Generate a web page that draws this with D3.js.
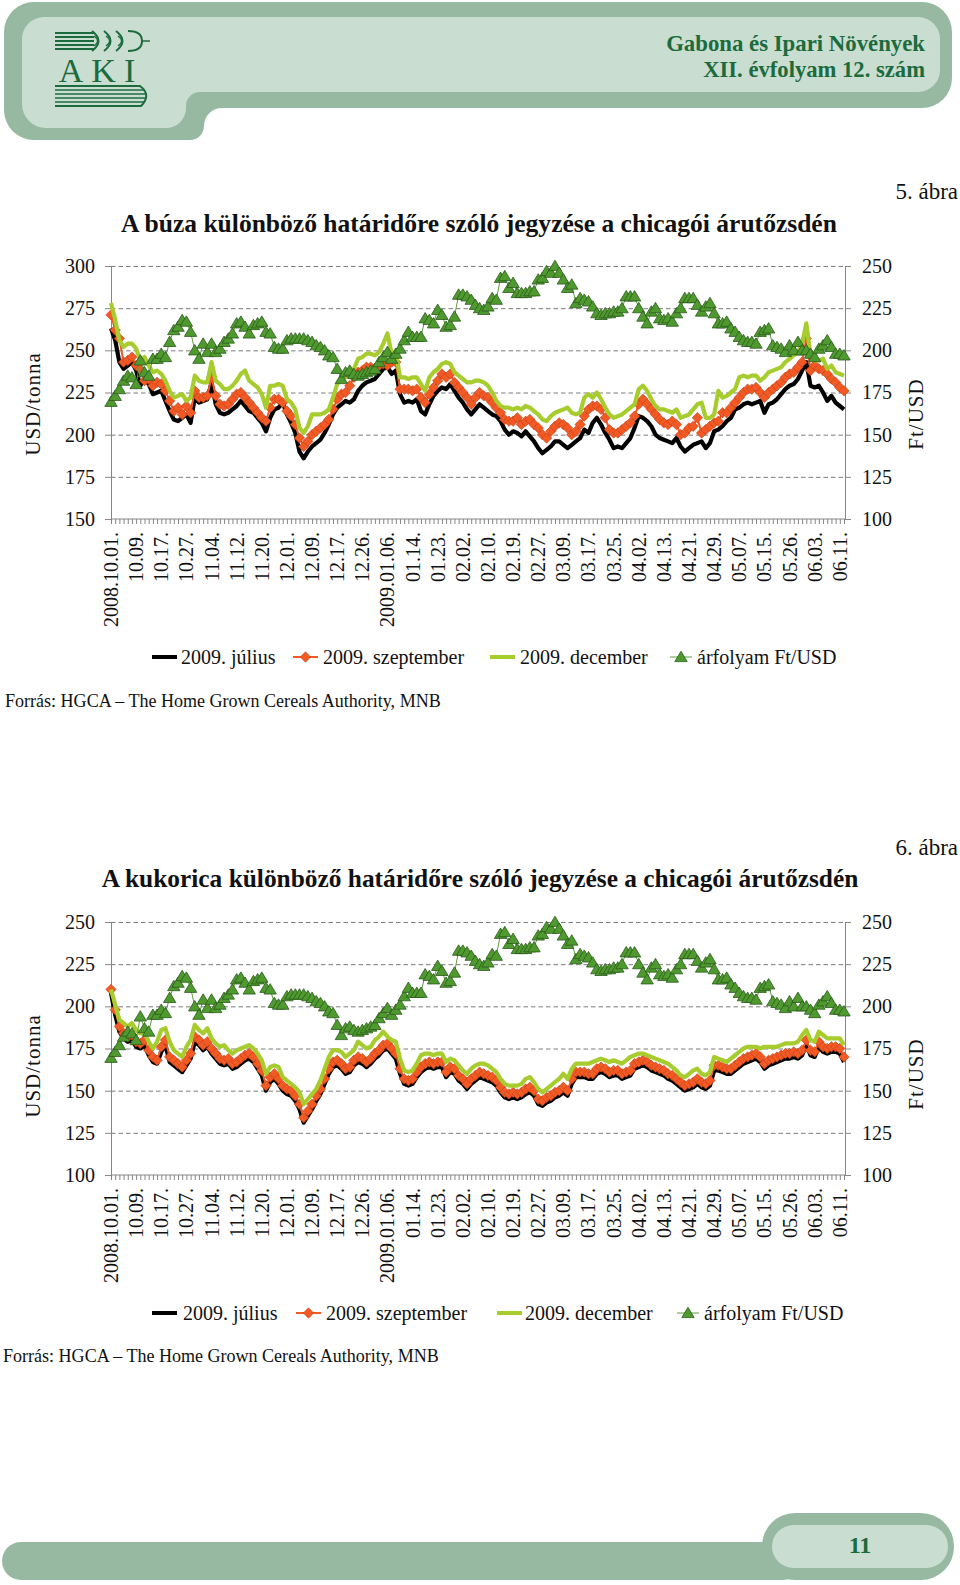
<!DOCTYPE html>
<html><head><meta charset="utf-8">
<script src="https://cdn.jsdelivr.net/npm/d3@7"></script>
<style>
body{margin:0;background:#fff;}
svg{display:block;font-family:"Liberation Serif","Times New Roman",serif;}
</style></head><body>
<svg id="page" width="960" height="1585"></svg>
<script>
// ---------- DATA ----------
const months = [
  ["2008.10.", ["01","02","03","06","07","08","09","10","13","14","15","16","17","20","21","22","23","24","27","28","29","30","31"]],
  ["2008.11.", ["03","04","05","06","07","10","11","12","13","14","17","18","19","20","21","24","25","26","28"]],
  ["2008.12.", ["01","02","03","04","05","08","09","10","11","12","15","16","17","18","19","22","23","24","26","29","30","31"]],
  ["2009.01.", ["02","05","06","07","08","09","12","13","14","15","16","20","21","22","23","26","27","28","29","30"]],
  ["2009.02.", ["02","03","04","05","06","09","10","11","12","13","17","18","19","20","23","24","25","26","27"]],
  ["2009.03.", ["02","03","04","05","06","09","10","11","12","13","16","17","18","19","20","23","24","25","26","27","30","31"]],
  ["2009.04.", ["01","02","03","06","07","08","09","13","14","15","16","17","20","21","22","23","24","27","28","29","30"]],
  ["2009.05.", ["01","04","05","06","07","08","11","12","13","14","15","18","19","20","21","22","26","27","28","29"]],
  ["2009.06.", ["01","02","03","04","05","08","09","10","11","12"]]
];
const dates = months.flatMap(([m, days]) => days.map(d => m + d));

const tickLabels = ["2008.10.01.","10.09.","10.17.","10.27.","11.04.","11.12.","11.20.","12.01.","12.09.","12.17.","12.26.","2009.01.06.","01.14.","01.23.","02.02.","02.10.","02.19.","02.27.","03.09.","03.17.","03.25.","04.02.","04.13.","04.21.","04.29.","05.07.","05.15.","05.26.","06.03.","06.11."];
const tickEvery = 6;

const seriesNames = ["2009. július","2009. szeptember","2009. december","árfolyam Ft/USD"];

// Wheat (USD/tonna)
const wheatJuly = [263,256,243,239,241,243,238,229,233,230,224,225,226,220,214,209,208,210,212,207,222,219,220,221,231,218,213,212,213,215,217,220,217,214,213,210,207,202,210,215,216,219,212,207,201,190,186,190,193,195,197,201,206,212,216,218,220,219,221,226,229,231,232,233,236,239,240,236,238,224,219,220,219,221,214,212,218,223,226,228,227,230,226,222,219,215,212,215,218,216,214,212,211,208,203,200,202,201,199,202,199,196,192,189,191,193,196,196,194,192,194,196,198,203,201,207,210,206,201,197,192,193,192,195,198,204,211,210,208,205,200,198,197,196,195,198,193,190,192,194,195,196,192,195,202,203,205,208,210,215,216,218,219,218,219,220,213,218,219,221,224,227,229,230,233,238,243,229,228,229,225,220,223,219,217,215];
const wheatSep = [271,262,257,243,244,246,241,239,232,233,229,231,230,226,220,214,216,212,217,213,226,222,222,223,234,223,218,217,218,221,224,225,222,219,216,213,210,208,216,221,221,219,214,211,206,198,193,196,200,202,204,206,209,215,221,224,225,229,234,237,238,240,240,239,241,242,241,243,243,227,227,227,226,227,222,219,224,228,232,236,234,236,231,228,225,222,218,222,225,223,222,219,216,213,209,208,208,210,206,208,209,206,204,200,198,202,205,207,206,204,200,202,206,211,215,217,217,215,210,203,201,201,203,205,207,211,218,221,218,215,212,209,207,206,208,206,200,201,204,205,210,201,203,205,207,208,213,213,216,219,222,225,227,227,228,225,222,225,227,229,231,234,236,237,240,243,257,238,241,239,238,236,233,231,228,226];
const wheatDec = [278,268,256,252,254,254,251,244,246,241,237,238,236,232,226,222,223,224,220,222,235,232,231,231,243,232,230,227,227,229,232,236,238,232,230,228,224,216,229,229,230,229,221,219,215,204,201,205,212,212,212,213,215,222,230,233,234,235,239,245,246,248,248,247,249,254,260,248,249,234,234,233,234,234,230,226,234,237,239,242,243,242,237,235,233,231,231,232,232,231,229,225,220,217,216,216,215,216,215,217,216,214,212,209,208,211,213,214,215,216,213,212,213,222,224,222,225,221,216,212,210,211,212,214,216,218,227,229,226,221,217,215,215,214,213,215,210,211,212,215,218,219,210,210,212,226,222,223,225,227,234,235,234,235,235,232,234,237,238,239,240,243,245,247,249,254,266,247,244,244,245,239,241,237,236,235];

// Exchange rate (Ft/USD), same in both charts
const fxRate = [169.5,173,177,182,185,184,180,194,187,185,195,195,198,196,205,212,214,218,217,211,200,195,204,199,204,199,201,205,207,210,216,217,214,210,215,216,217,211,210,202,201,201,206,207,207,207,207,206,205,203,202,200,197,196,189,183,187,188,186,185,186,187,188,189,193,196,199,195,198,201,206,211,208,208,208,219,218,216,224,221,214,215,220,233,233,232,230,227,225,224,226,231,230,243,244,237,240,234,234,234,235,235,242,243,247,246,250,246,242,237,239,228,231,230,229,226,222,221,222,222,223,223,225,232,232,232,225,220,216,223,225,219,218,219,217,222,225,231,231,231,227,223,226,228,222,216,216,217,213,211,208,206,205,205,204,211,212,213,203,202,201,199,203,200,205,200,200,198,196,201,203,206,202,198,198,197];

// Corn (USD/tonna)
const cornJuly = [208,195,185,181,179,180,176,175,177,171,167,166,173,177,167,165,163,161,165,169,179,177,174,176,172,169,166,165,166,163,164,166,168,169,167,163,159,150,155,157,154,150,148,147,144,139,131,135,139,144,148,154,160,164,165,163,160,161,165,167,166,164,166,169,171,174,175,172,169,160,154,153,154,158,161,163,164,163,164,164,158,161,160,156,154,151,154,156,158,157,156,155,153,149,146,145,146,145,146,148,149,147,142,141,143,144,146,147,149,147,154,158,158,158,157,157,160,161,160,158,159,159,157,158,159,163,164,165,164,162,161,160,159,157,156,154,152,150,151,152,154,152,151,153,162,162,161,160,160,162,164,166,167,168,169,167,163,165,166,167,168,169,169,170,169,171,177,171,170,176,173,172,173,173,172,167];
const cornSep = [210,198,188,184,182,183,179,178,180,174,170,168,176,180,170,168,166,164,168,172,182,180,177,179,175,172,169,168,169,166,167,169,171,172,170,166,162,153,158,160,157,153,151,150,147,142,134,138,142,147,151,157,163,167,168,166,163,164,168,170,169,167,169,172,174,177,178,175,172,163,157,156,157,161,164,166,167,166,167,167,161,164,163,159,157,154,157,159,161,160,159,158,156,152,149,148,149,148,149,151,152,150,145,144,146,147,149,150,152,150,157,161,161,161,160,160,163,164,163,161,162,162,160,161,162,166,167,168,167,165,164,163,162,160,159,157,155,153,154,155,157,155,154,156,165,165,164,163,163,165,167,169,170,171,172,170,166,168,169,170,171,172,172,173,172,174,180,174,173,179,176,175,176,176,175,170];
const cornDec = [210,201,192,190,188,190,186,184,184,179,175,179,186,187,179,174,172,170,176,180,189,186,184,187,181,178,176,177,174,172,174,175,176,177,175,172,168,160,164,165,164,158,156,154,152,149,142,145,148,151,156,163,170,174,174,173,170,172,174,179,177,175,176,180,182,185,182,180,179,169,162,161,162,166,171,172,172,171,172,172,167,169,168,165,162,160,163,165,166,166,165,163,161,157,154,153,153,153,154,157,158,155,151,149,151,153,155,157,160,157,163,166,166,166,166,167,168,169,168,167,168,167,166,168,170,171,172,172,171,170,169,168,167,166,164,162,159,158,160,162,163,160,159,161,170,169,168,167,169,171,173,175,176,176,176,175,176,176,176,176,177,178,178,178,179,183,186,180,179,185,183,181,181,181,181,177];

const wheatLeftTicks = [150,175,200,225,250,275,300];
const cornLeftTicks = [100,125,150,175,200,225,250];
const rightTicks = [100,125,150,175,200,225,250];

// ---------- STYLE ----------
const C = {
  band: "#97b9a1", bandLight: "#c9ddd1", brand: "#1c6b3d",
  axis: "#868686", grid: "#7c7c7c", text: "#111",
  july: "#000000", sep: "#f15a24", sepStroke: "#c23c14", dec: "#a6cc2e",
  fx: "#4f9a2f", fxStroke: "#2b5a1a", fxLine: "#5d9c3c"
};
const SERIF = '"Liberation Serif","Times New Roman",serif';
const svg = d3.select("#page");

function fitWidth(sel, target) {
  const w = sel.node().getComputedTextLength();
  const fs = parseFloat(sel.attr("font-size"));
  sel.attr("font-size", (fs * target / w).toFixed(2));
  return sel;
}

// ---------- HEADER ----------
const hdr = svg.append("g");
hdr.append("path").attr("fill", C.band).attr("d",
  "M34,2 H922 A30,30 0 0 1 952,32 V78 A30,30 0 0 1 922,108 H222 A18,18 0 0 0 204,126 V126 A14,14 0 0 1 190,140 H34 A30,30 0 0 1 4,110 V32 A30,30 0 0 1 34,2 Z");
hdr.append("path").attr("fill", C.bandLight).attr("d",
  "M44,17 H918 A22,22 0 0 1 940,39 V70 A22,22 0 0 1 918,92 H200 A14,14 0 0 0 186,106 V108 A20,20 0 0 1 166,128 H46 A24,24 0 0 1 22,104 V39 A22,22 0 0 1 44,17 Z");

// logo
const logo = hdr.append("g").attr("stroke", C.brand).attr("fill","none");
[33,37,41,45,49].forEach(y => logo.append("line").attr("x1",55).attr("x2",94).attr("y1",y).attr("y2",y).attr("stroke-width",1.8));
[0,1,2].forEach(k => {
  const x0 = 92 + k*12;
  logo.append("path").attr("d",`M${x0},31 Q${x0+13},41 ${x0},51`).attr("stroke-width",2);
  logo.append("path").attr("d",`M${x0+2},36 Q${x0+9},41 ${x0+2},46`).attr("stroke-width",1.2);
});
logo.append("path").attr("d","M128,31 Q142,31 142,41 Q142,51 128,51").attr("stroke-width",2);
logo.append("line").attr("x1",142).attr("x2",150).attr("y1",41).attr("y2",41).attr("stroke-width",1.5);
[90,94,98,102].forEach(y => logo.append("line").attr("x1",55).attr("x2",145).attr("y1",y).attr("y2",y).attr("stroke-width",1.6));
logo.append("path").attr("d","M55,86 H140 Q152,95 141,106 H55").attr("stroke-width",2);
hdr.append("text").attr("x",101).attr("y",82).attr("text-anchor","middle").attr("font-size",34)
  .attr("fill",C.brand).attr("letter-spacing",8).text("AKI");

const h1 = hdr.append("text").attr("x",925).attr("y",51).attr("text-anchor","end").attr("font-size",21)
  .attr("font-weight","bold").attr("fill",C.brand).text("Gabona és Ipari Növények");
fitWidth(h1, 259);
const h2 = hdr.append("text").attr("x",925).attr("y",77).attr("text-anchor","end").attr("font-size",21)
  .attr("font-weight","bold").attr("fill",C.brand).text("XII. évfolyam 12. szám");
fitWidth(h2, 222);

// ---------- CHART ----------
const X0 = 111, X1 = 845;
const x = d3.scalePoint().domain(dates).range([X0, 844]);

function diamondPath(r){ return `M0,${-r}L${r},0L0,${r}L${-r},0Z`; }
const triPath = "M0,-5.8L6.2,4.6L-6.2,4.6Z";

function styleAxis(s) {
  s.attr("font-family", SERIF).attr("font-size", 20);
  s.select(".domain").attr("stroke", C.axis);
  s.selectAll(".tick line").attr("stroke", C.axis);
  s.selectAll(".tick text").attr("fill", C.text);
}

function drawChart(o) {
  const g = svg.append("g");
  const yL = d3.scaleLinear().domain([o.leftTicks[0], o.leftTicks[o.leftTicks.length-1]]).range([o.bottom, o.top]);
  const yR = d3.scaleLinear().domain([rightTicks[0], rightTicks[rightTicks.length-1]]).range([o.bottom, o.top]);

  g.append("text").attr("x",958).attr("y",o.figY).attr("text-anchor","end").attr("font-size",23).attr("fill",C.text).text(o.fig);
  const t = g.append("text").attr("x",o.titleX).attr("y",o.titleY).attr("text-anchor","middle").attr("font-size",21)
    .attr("font-weight","bold").attr("fill",C.text).text(o.title);
  fitWidth(t, o.titleW);

  // gridlines
  g.append("g").attr("transform",`translate(${X0},0)`)
    .call(d3.axisLeft(yL).tickValues(o.leftTicks.slice(1)).tickSize(-(X1-X0)).tickFormat(""))
    .call(s => { s.select(".domain").remove(); s.selectAll(".tick line").attr("stroke",C.grid).attr("stroke-dasharray","4.5,3"); });

  g.append("g").attr("transform",`translate(${X0},0)`)
    .call(d3.axisLeft(yL).tickValues(o.leftTicks).tickSize(6).tickPadding(10)).call(styleAxis);
  g.append("g").attr("transform",`translate(${X1},0)`)
    .call(d3.axisRight(yR).tickValues(rightTicks).tickSize(6).tickPadding(11)).call(styleAxis);
  g.append("g").attr("transform",`translate(0,${o.bottom})`)
    .call(d3.axisBottom(x).tickValues(dates).tickSize(5).tickFormat(""))
    .call(styleAxis)
    .call(s => s.select(".domain").attr("d",`M${X0},0H${X1}`));
  tickLabels.forEach((lab, k) => {
    const d = dates[k * tickEvery];
    g.append("text").attr("transform",`translate(${x(d)},${o.bottom+13}) rotate(-90)`)
      .attr("text-anchor","end").attr("dy","0.35em").attr("font-size",20).attr("fill",C.text).text(lab);
  });

  g.append("text").attr("transform",`translate(33,${o.ltY}) rotate(-90)`).attr("text-anchor","middle").attr("dy","0.35em")
    .attr("font-size",21).attr("letter-spacing",1).attr("fill",C.text).text("USD/tonna");
  g.append("text").attr("transform",`translate(916,${o.rtY}) rotate(-90)`).attr("text-anchor","middle").attr("dy","0.35em")
    .attr("font-size",21).attr("letter-spacing",1).attr("fill",C.text).text("Ft/USD");

  const lineL = d3.line().x((d,i) => x(dates[i])).y(d => yL(d));
  const lineR = d3.line().x((d,i) => x(dates[i])).y(d => yR(d));
  g.append("path").attr("d", lineL(o.july)).attr("fill","none").attr("stroke",C.july).attr("stroke-width",4.2).attr("stroke-linejoin","round");
  g.append("path").attr("d", lineL(o.sep)).attr("fill","none").attr("stroke",C.sep).attr("stroke-width",2).attr("stroke-linejoin","round");
  g.append("g").selectAll("path").data(o.sep).join("path")
    .attr("transform",(d,i) => `translate(${x(dates[i])},${yL(d)})`)
    .attr("d", diamondPath(5.2)).attr("fill",C.sep).attr("stroke",C.sepStroke).attr("stroke-width",0.6);
  g.append("path").attr("d", lineL(o.dec)).attr("fill","none").attr("stroke",C.dec).attr("stroke-width",4.2).attr("stroke-linejoin","round");
  g.append("path").attr("d", lineR(fxRate)).attr("fill","none").attr("stroke",C.fxLine).attr("stroke-width",1);
  g.append("g").selectAll("path").data(fxRate).join("path")
    .attr("transform",(d,i) => `translate(${x(dates[i])},${yR(d)})`)
    .attr("d", triPath).attr("fill",C.fx).attr("stroke",C.fxStroke).attr("stroke-width",0.8);

  const L = g.append("g");
  const ly = o.legY, lp = o.legX;
  L.append("line").attr("x1",lp[0]).attr("x2",lp[0]+25).attr("y1",ly).attr("y2",ly).attr("stroke",C.july).attr("stroke-width",4);
  L.append("line").attr("x1",lp[2]).attr("x2",lp[2]+25).attr("y1",ly).attr("y2",ly).attr("stroke",C.sep).attr("stroke-width",2);
  L.append("path").attr("transform",`translate(${lp[2]+12.5},${ly})`).attr("d",diamondPath(5.2)).attr("fill",C.sep).attr("stroke",C.sepStroke).attr("stroke-width",0.6);
  L.append("line").attr("x1",lp[4]).attr("x2",lp[4]+25).attr("y1",ly).attr("y2",ly).attr("stroke",C.dec).attr("stroke-width",4);
  L.append("line").attr("x1",lp[6]).attr("x2",lp[6]+22).attr("y1",ly).attr("y2",ly).attr("stroke",C.fxLine).attr("stroke-width",1);
  L.append("path").attr("transform",`translate(${lp[6]+11},${ly})`).attr("d",triPath).attr("fill",C.fx).attr("stroke",C.fxStroke).attr("stroke-width",0.8);
  seriesNames.forEach((nm, k) => {
    L.append("text").attr("x",lp[2*k+1]).attr("y",ly+7).attr("font-size",20).attr("fill",C.text).text(nm);
  });

  const src = g.append("text").attr("x",o.srcX).attr("y",o.srcY).attr("font-size",16.5).attr("fill",C.text)
    .text("Forrás: HGCA – The Home Grown Cereals Authority, MNB");
  fitWidth(src, 436);
}

drawChart({
  top: 266, bottom: 519, leftTicks: wheatLeftTicks,
  july: wheatJuly, sep: wheatSep, dec: wheatDec,
  fig: "5. ábra", figY: 199,
  title: "A búza különböző határidőre szóló jegyzése a chicagói árutőzsdén", titleX: 479, titleY: 232, titleW: 716,
  ltY: 404, rtY: 414,
  legY: 657, legX: [152,181,293,323,490,520,670,697],
  srcX: 5, srcY: 707
});
drawChart({
  top: 922, bottom: 1175, leftTicks: cornLeftTicks,
  july: cornJuly, sep: cornSep, dec: cornDec,
  fig: "6. ábra", figY: 855,
  title: "A kukorica különböző határidőre szóló jegyzése a chicagói árutőzsdén", titleX: 480, titleY: 887, titleW: 757,
  ltY: 1066, rtY: 1074,
  legY: 1313, legX: [152,183,296,326,497,525,677,704],
  srcX: 3, srcY: 1362
});

// ---------- FOOTER ----------
const ft = svg.append("g");
ft.append("rect").attr("x",2).attr("y",1542).attr("width",800).attr("height",38).attr("rx",19).attr("fill",C.band);
ft.append("rect").attr("x",762).attr("y",1513).attr("width",192).attr("height",67).attr("rx",33).attr("fill",C.band);
ft.append("rect").attr("x",772).attr("y",1525).attr("width",176).attr("height",43).attr("rx",21.5).attr("fill",C.bandLight);
ft.append("text").attr("x",860).attr("y",1553).attr("text-anchor","middle").attr("font-size",24).attr("font-weight","bold")
  .attr("fill",C.brand).text("11");
</script>
</body></html>
